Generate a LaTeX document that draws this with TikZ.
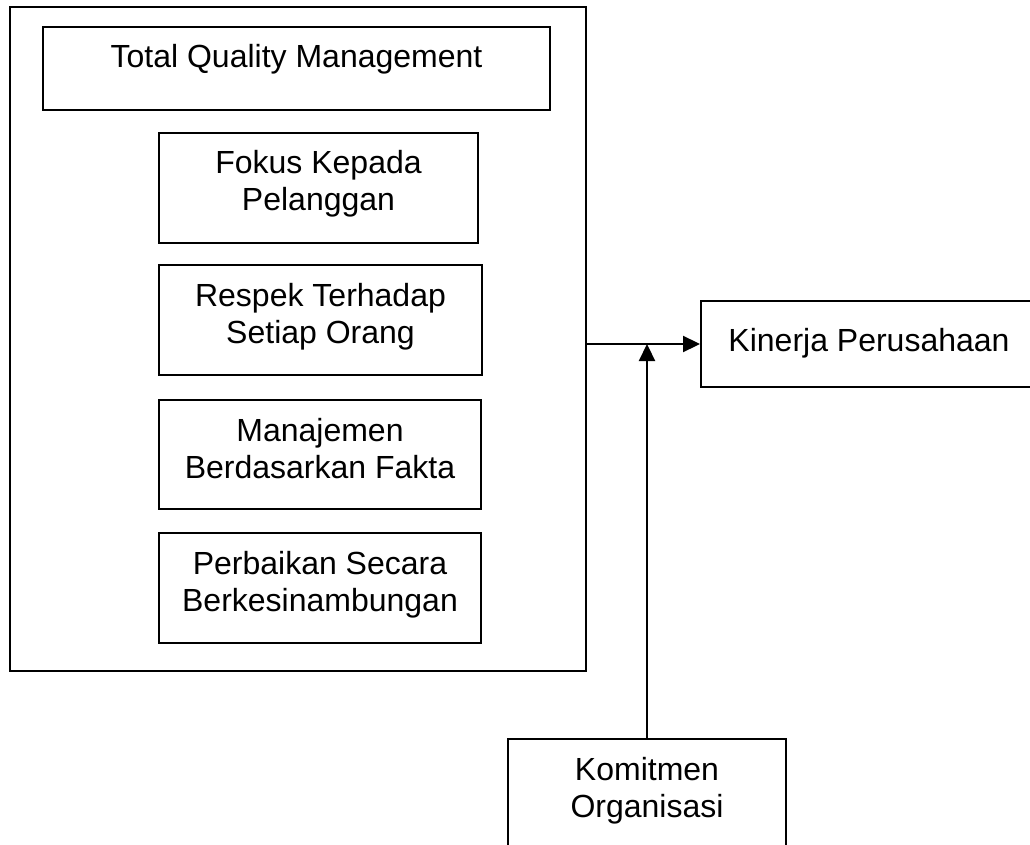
\documentclass[tikz,border=0pt]{standalone}
\usepackage{fontspec}
\setmainfont{Liberation Sans}
\usetikzlibrary{arrows.meta}
\tikzset{
  box/.style={draw, line width=2pt, rectangle, inner sep=0pt, font=\fontsize{32}{37}\selectfont},
  conn/.style={line width=2.2pt, -{Triangle[length=17pt,width=16pt]}},
}
\newcommand{\twolines}[3]{\parbox[t]{#1}{\centering #2\\#3}}
\begin{document}
\begin{tikzpicture}[x=1pt,y=-1pt]
\useasboundingbox (0,0) rectangle (1030,845);
\node[box, minimum width=576pt, minimum height=664pt] (frame) at (298,339) {};
\node[box, minimum width=507pt, minimum height=83pt, text height=41pt, text depth=42pt] (tqm) at (296.5,68.5) {Total Quality Management};
\node[box, minimum width=319pt, minimum height=110pt, text height=41pt, text depth=69pt] (fokus) at (318.5,188) {\twolines{300pt}{Fokus Kepada}{Pelanggan}};
\node[box, minimum width=323pt, minimum height=110pt, text height=41pt, text depth=69pt] (respek) at (320.5,320) {\twolines{300pt}{Respek Terhadap}{Setiap Orang}};
\node[box, minimum width=322pt, minimum height=109pt, text height=41pt, text depth=68pt] (fakta) at (320,454.5) {\twolines{300pt}{Manajemen}{Berdasarkan Fakta}};
\node[box, minimum width=322pt, minimum height=110pt, text height=41pt, text depth=69pt] (perbaikan) at (320,588) {\twolines{300pt}{Perbaikan Secara}{Berkesinambungan}};
\node[box, minimum width=336pt, minimum height=86pt, text height=50pt, text depth=36pt] (kinerja) at (869,344) {Kinerja Perusahaan};
\node[box, minimum width=278pt, minimum height=112pt, text height=41pt, text depth=71pt] (komitmen) at (647,795) {\twolines{260pt}{Komitmen}{Organisasi}};
\draw[conn] (kinerja.west -| frame.east) -- (kinerja.west);
\draw[conn] (komitmen.north) -- (komitmen.north |- kinerja.west);
\end{tikzpicture}
\end{document}
